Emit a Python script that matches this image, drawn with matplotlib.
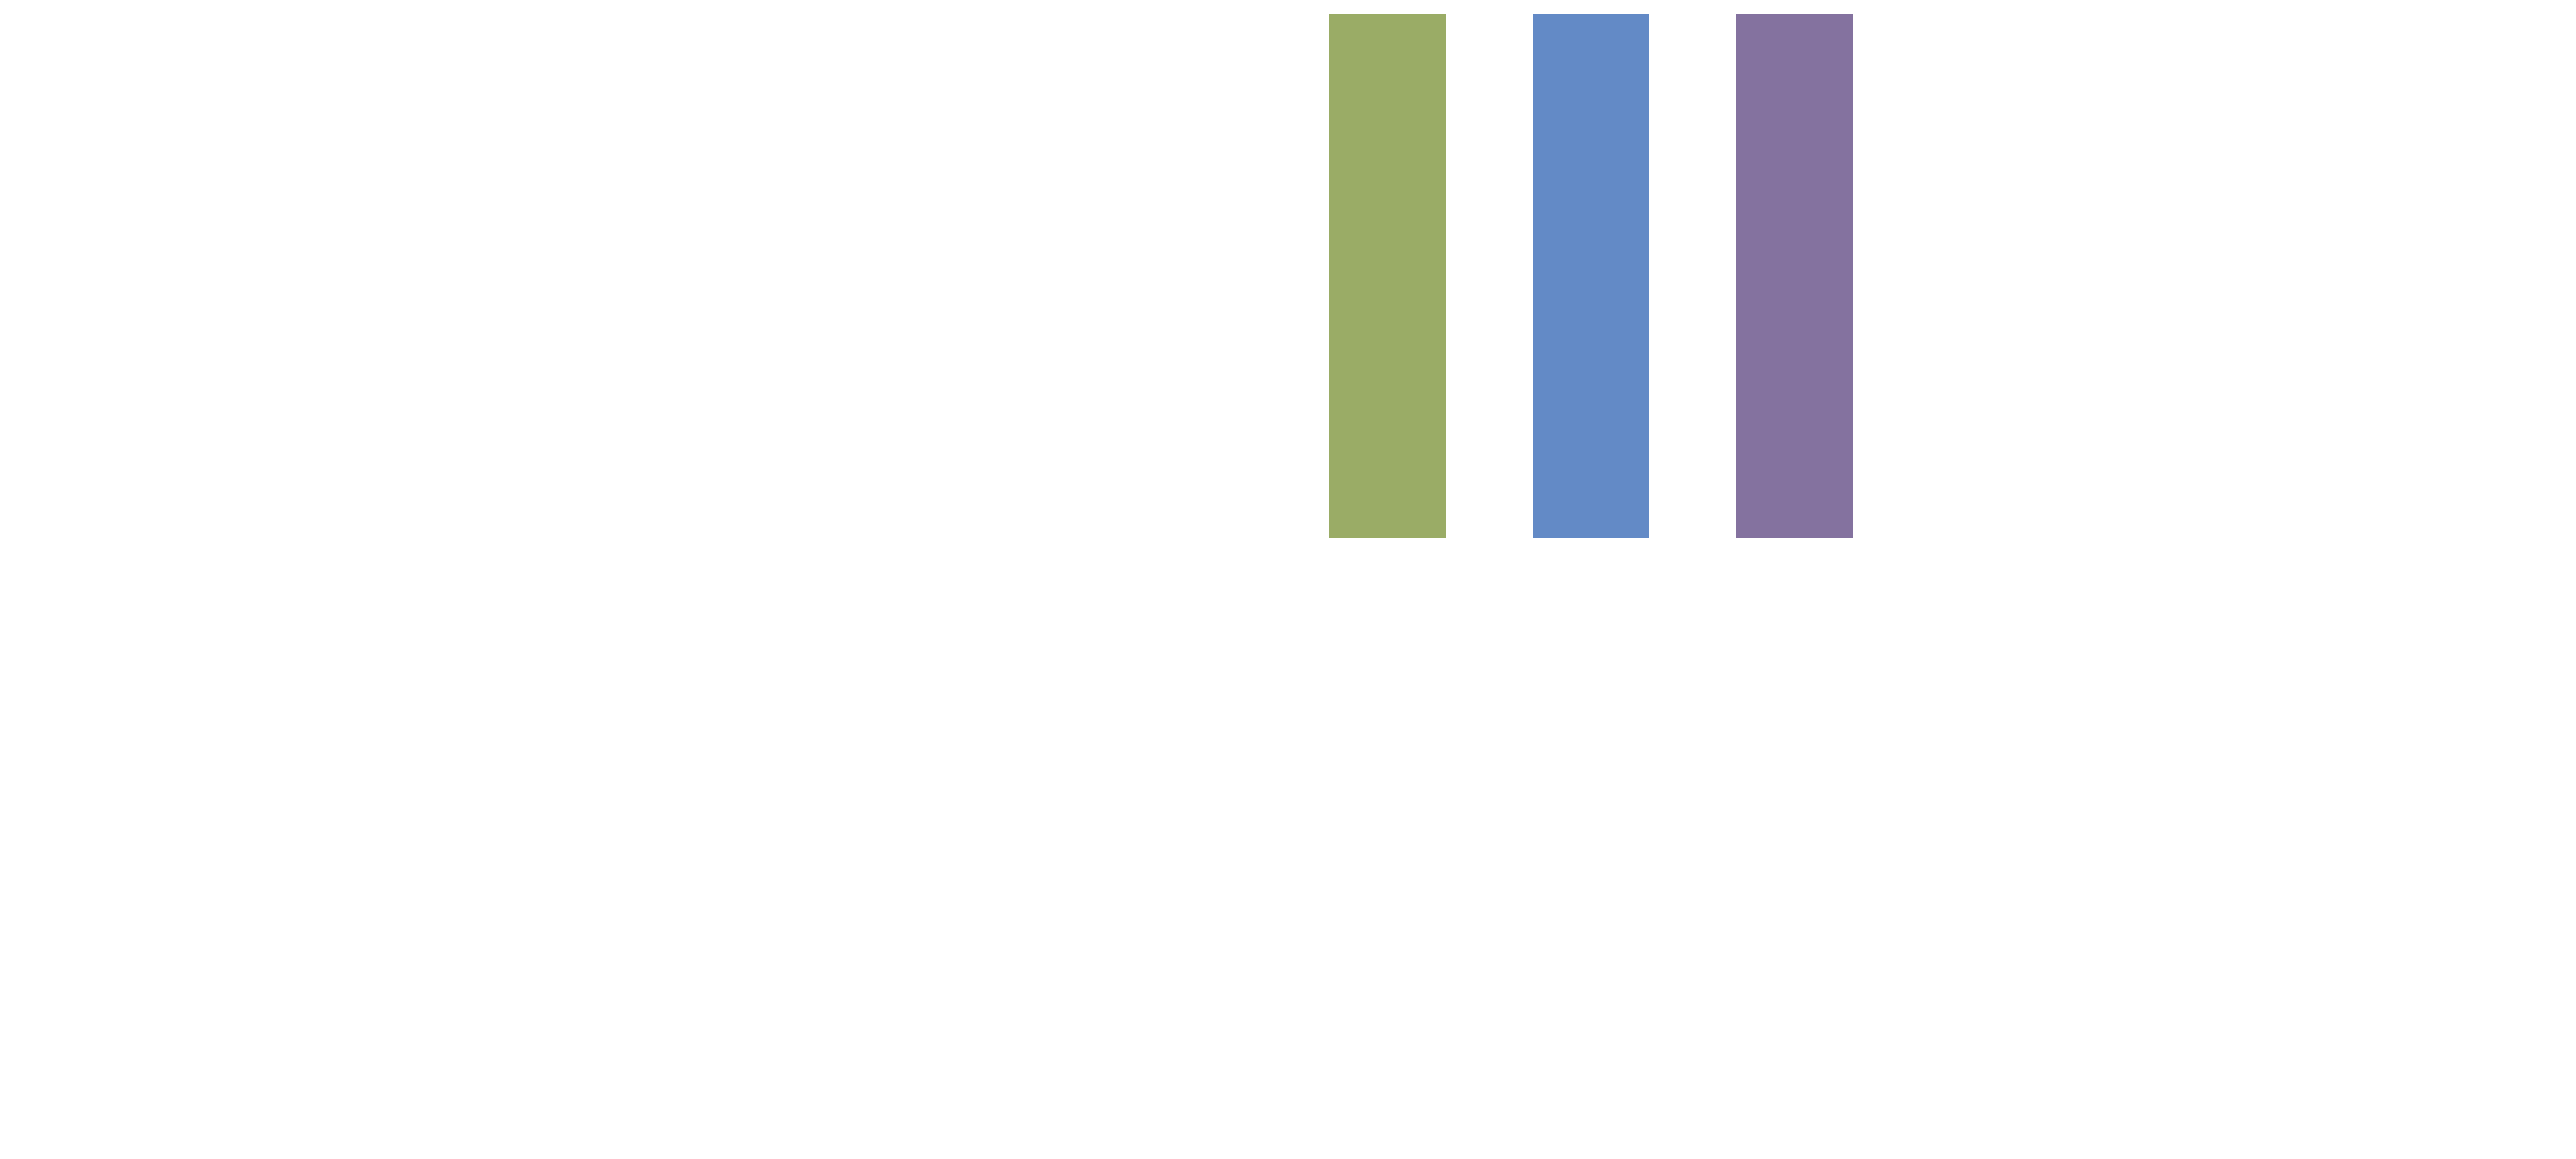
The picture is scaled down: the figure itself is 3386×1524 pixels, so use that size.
import matplotlib
matplotlib.use("Agg")
import matplotlib.pyplot as plt

categories = ["A", "B", "C"]
values = [1.0, 1.0, 1.0]
colors = ["#9AAC66", "#638AC6", "#84729F"]

W, H = 3387, 1524
fig = plt.figure(figsize=(W / 100, H / 100), dpi=100)
fig.patch.set_facecolor("white")

left, right = 1747 / W, 2436 / W
bottom, top = (H - 707) / H, (H - 18) / H
ax = fig.add_axes([left, bottom, right - left, top - bottom])

bw = 0.575
ax.bar(range(len(categories)), values, width=bw, color=colors, linewidth=0)
ax.set_xlim(-bw / 2, len(categories) - 1 + bw / 2)
ax.set_ylim(0, max(values))
ax.axis("off")

fig.savefig("out.png", dpi=100, facecolor="white")
